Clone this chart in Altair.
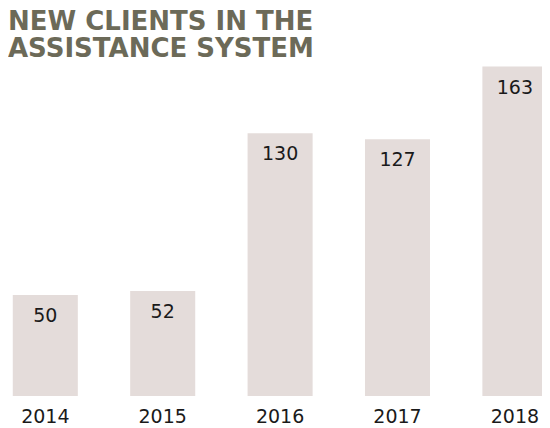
import altair as alt
import pandas as pd

# Data
years = ["2014", "2015", "2016", "2017", "2018"]
clients = [50, 52, 130, 127, 163]
title_lines = ["NEW CLIENTS IN THE", "ASSISTANCE SYSTEM"]

df = pd.DataFrame({"year": years, "clients": clients})

BAR = "#e4dcda"
TITLE = "#6c6a58"
TEXT = "#1a1a1a"
FONT = "DejaVu Sans"

x = alt.X(
    "year:N",
    sort=years,
    scale=alt.Scale(range=[-21.4, 565.6], paddingInner=0.446, paddingOuter=0.223),
    axis=alt.Axis(
        title=None, labelAngle=0, ticks=False, tickSize=0, domain=False, grid=False,
        labelPadding=11, labelFontSize=19, labelFont=FONT, labelColor=TEXT,
    ),
)
y = alt.Y("clients:Q", scale=alt.Scale(domain=[0, 192], nice=False), axis=None)

bars = alt.Chart(df).mark_bar(color=BAR).encode(x=x, y=y)
labels = alt.Chart(df).mark_text(
    baseline="alphabetic", align="center", dy=27, fontSize=19, font=FONT, color=TEXT
).encode(x=x, y=y, text="clients:Q")

chart = (
    alt.layer(bars, labels)
    .properties(
        width=534,
        height=388,
        title=alt.TitleParams(
            text=title_lines, anchor="start", frame="group", orient="top",
            font=FONT, fontSize=26, fontWeight="bold", color=TITLE,
            baseline="top", lineHeight=27.5, offset=0, dx=0, dy=54,
        ),
        autosize=alt.AutoSizeParams(type="none"),
        padding={"left": 0, "top": 0, "right": 0, "bottom": 32},
    )
    .configure_view(stroke=None)
)

chart.save("out.html", embed_options={"renderer": "svg", "actions": False})
